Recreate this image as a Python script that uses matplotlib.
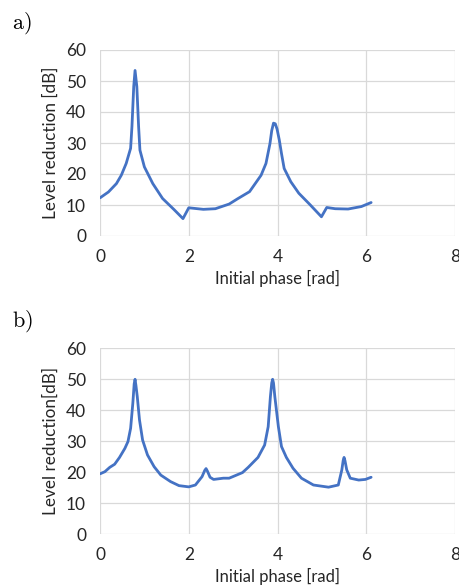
import matplotlib
matplotlib.use("Agg")
import matplotlib.pyplot as plt

# Panel a) data
phase_a = [0.0, 0.19, 0.37, 0.48, 0.59, 0.69, 0.72, 0.76, 0.79, 0.83, 0.87, 0.90, 1.0, 1.19, 1.41, 1.67, 1.87,
           2.0, 2.33, 2.6, 2.91, 3.1, 3.37, 3.63, 3.74, 3.83, 3.87, 3.91, 3.95, 3.99, 4.04, 4.09, 4.15, 4.30, 4.48,
           4.74, 4.99, 5.11, 5.30, 5.59, 5.89, 6.11]
level_a = [12.3, 14.2, 16.9, 19.6, 23.4, 28.3, 35.3, 48.2, 53.4, 48.2, 35.3, 27.7, 22.3, 16.9, 12.1, 8.5, 5.6,
           9.1, 8.6, 8.8, 10.3, 12.0, 14.3, 19.6, 23.4, 29.8, 34.0, 36.4, 36.2, 34.5, 31.0, 26.6, 21.8, 17.5, 13.8,
           10.0, 6.2, 9.2, 8.8, 8.7, 9.5, 10.8]

# Panel b) data
phase_b = [0.0, 0.11, 0.22, 0.33, 0.44, 0.56, 0.63, 0.69, 0.74, 0.77, 0.79, 0.81, 0.84, 0.89, 0.96, 1.07, 1.22,
           1.37, 1.59, 1.78, 2.0, 2.15, 2.30, 2.36, 2.39, 2.42, 2.48, 2.56, 2.78, 2.91, 3.21, 3.34, 3.56, 3.71,
           3.79, 3.84, 3.87, 3.89, 3.91, 3.94, 4.02, 4.09, 4.20, 4.35, 4.54, 4.81, 5.15, 5.37, 5.45, 5.48, 5.50,
           5.52, 5.56, 5.64, 5.83, 5.98, 6.11]
level_b = [19.5, 20.2, 21.6, 22.6, 24.8, 27.7, 29.9, 34.2, 42.3, 48.5, 50.0, 48.0, 44.4, 36.9, 30.4, 25.6, 21.8,
           19.1, 17.0, 15.7, 15.3, 15.9, 18.6, 20.6, 21.2, 20.4, 18.4, 17.7, 18.1, 18.1, 19.9, 21.6, 24.8, 28.8,
           34.7, 44.4, 48.8, 50.0, 48.8, 44.4, 34.7, 28.3, 24.8, 21.3, 18.1, 15.9, 15.2, 15.9, 20.8, 23.8, 24.8,
           23.8, 20.8, 18.1, 17.5, 17.7, 18.4]

x_ticks = [0, 2, 4, 6, 8]
y_ticks = [0, 10, 20, 30, 40, 50, 60]

plt.rcParams['font.family'] = ['Lato', 'DejaVu Sans']
plt.rcParams['mathtext.fontset'] = 'cm'

W, H = 459, 587
fig = plt.figure(figsize=(W / 100, H / 100), dpi=100)

line_color = '#4472C4'
grid_color = '#D9D9D9'
text_color = '#262626'

def make_panel(rect, x, y, ylabel, tag, tag_y):
    ax = fig.add_axes(rect)
    ax.plot(x, y, color=line_color, lw=2.0, solid_capstyle='round', solid_joinstyle='round', zorder=3)
    ax.set_xlim(0, 8)
    ax.set_ylim(0, 60)
    ax.set_xticks(x_ticks)
    ax.set_yticks(y_ticks)
    for s in ax.spines.values():
        s.set_visible(False)
    ax.grid(True, color=grid_color, lw=0.9, zorder=0)
    ax.tick_params(length=0, labelsize=12.5, colors=text_color)
    ax.tick_params(axis='x', pad=9)
    ax.tick_params(axis='y', pad=10)
    ax.set_ylabel(ylabel, fontsize=12.3, color=text_color, labelpad=5)
    ax.set_xlabel('Initial phase [rad]', fontsize=12, color=text_color, labelpad=4)
    fig.text(12 / W, 1 - tag_y / H, tag, fontsize=16, va='baseline', ha='left')
    return ax

x0 = 100 / W
x1 = 455 / W
make_panel([x0, 1 - 236 / H, x1 - x0, (236 - 50) / H], phase_a, level_a,
           'Level reduction [dB]', r'$\mathrm{a)}$', 29)
make_panel([x0, 1 - 534.3 / H, x1 - x0, (534.3 - 348.3) / H], phase_b, level_b,
           'Level reduction[dB]', r'$\mathrm{b)}$', 327)

fig.savefig('out.png', dpi=100)
